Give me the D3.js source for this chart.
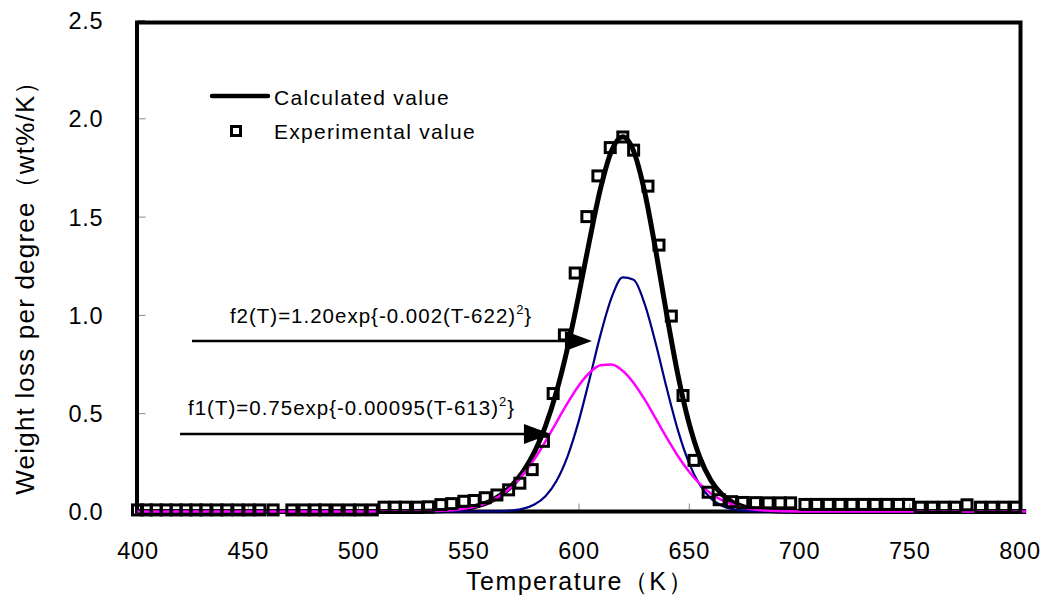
<!DOCTYPE html>
<html lang="en">
<head>
<meta charset="UTF-8">
<script src="https://cdn.jsdelivr.net/npm/d3@7"></script>
<style>
  body { margin: 0; background: #fff; }
  svg { display: block; font-family: "Liberation Sans", Arial, sans-serif; }
</style>
</head>
<body>
<div id="fig"></div>
<script>
// temperature grid for the fitted curves (K)
const tempGrid = [400, 450, 500, 520, 525, 530, 535,
  540, 545, 550, 555, 560, 565, 570, 575, 580, 585, 590, 595, 600, 605, 610,
  615, 620, 625, 630, 635, 640, 645, 650, 655, 660, 665, 670, 675, 680, 685,
  690, 695, 700, 710, 750, 803];

// f1(T)
const f1Vals = [0, 0, 0, 0.0002, 0.0005, 0.0011, 0.0023,
  0.0047, 0.0093, 0.0173, 0.0307, 0.0520, 0.0840, 0.1294, 0.1902, 0.2665, 0.3561, 0.4538, 0.5513, 0.6388, 0.7058, 0.7436,
  0.7472, 0.7159, 0.6541, 0.5699, 0.4736, 0.3752, 0.2835, 0.2043, 0.1404, 0.0920, 0.0575, 0.0342, 0.0195, 0.0105, 0.0054,
  0.0027, 0.0013, 0.0006, 0.0001, 0, 0];

// f2(T)
const f2Vals = [0, 0, 0, 0, 0, 0, 0,
  0, 0, 0, 0.0002, 0.0005, 0.0018, 0.0054, 0.0145, 0.0352, 0.0776, 0.1548, 0.2792, 0.4558, 0.6732, 0.8997,
  1.0879, 1.1904, 1.1786, 1.0559, 0.8559, 0.6277, 0.4165, 0.2502, 0.1360, 0.0668, 0.0297, 0.0120, 0.0044, 0.0014, 0.0004,
  0.0001, 0, 0, 0, 0, 0];

// calculated value
const calcVals = [0, 0, 0, 0.0002, 0.0005, 0.0011, 0.0023,
  0.0047, 0.0093, 0.0173, 0.0309, 0.0525, 0.0858, 0.1348, 0.2047, 0.3017, 0.4337, 0.6086, 0.8305, 1.0946, 1.3790, 1.6433,
  1.8351, 1.9063, 1.8327, 1.6258, 1.3295, 1.0029, 0.7000, 0.4545, 0.2764, 0.1588, 0.0872, 0.0462, 0.0239, 0.0119, 0.0058,
  0.0028, 0.0013, 0.0006, 0.0001, 0, 0];

// experimental points
const expT = [400, 404, 408.5, 413, 417.5, 422, 426.5, 431, 436, 440.5, 445.5, 450.5, 455.5, 461.5,
  470, 475.5, 480.5, 485, 490.5, 496, 501, 506.5,
  511.8, 516.8, 521.5, 527, 532, 537.6, 542.5, 548, 552.7, 557.7,
  563, 568.3, 573.4, 579, 584.1, 588.5, 593.6, 598.5, 603.8, 608.8,
  614.4, 620.1, 625, 631.5, 636.5, 642.1, 647.4, 652.4, 658.8, 663.8,
  669.4, 674.5, 680.3, 686, 691.4, 696.2,
  702.7, 708, 713.3, 718.6, 724, 729.2, 734.5, 739.9, 745.1, 749.7,
  755, 760.5, 765.8, 771, 776.2, 782.3, 787.6, 792.9, 798.2];
const expV = [0.008, 0.008, 0.008, 0.008, 0.008, 0.008, 0.008, 0.008, 0.008, 0.008, 0.008, 0.008, 0.008, 0.008,
  0.008, 0.008, 0.008, 0.008, 0.008, 0.008, 0.008, 0.008,
  0.022, 0.022, 0.022, 0.022, 0.024, 0.035, 0.040, 0.052, 0.056, 0.070,
  0.084, 0.110, 0.144, 0.213, 0.357, 0.600, 0.898, 1.213, 1.500, 1.707,
  1.851, 1.905, 1.838, 1.655, 1.355, 0.994, 0.590, 0.260, 0.098, 0.060,
  0.050, 0.046, 0.045, 0.044, 0.044, 0.044,
  0.036, 0.036, 0.036, 0.036, 0.036, 0.036, 0.036, 0.036, 0.036, 0.036,
  0.022, 0.022, 0.022, 0.022, 0.034, 0.022, 0.022, 0.022, 0.022];

const xTicks = [400, 450, 500, 550, 600, 650, 700, 750, 800];
const yTicks = [0, 0.5, 1.0, 1.5, 2.0, 2.5];

const width = 1046, height = 603;
const plotL = 137.5, plotR = 1019.5, plotT = 20, plotB = 511.5;

const svg = d3.select("#fig").append("svg")
  .attr("width", width)
  .attr("height", height);

svg.append("rect").attr("width", width).attr("height", height).attr("fill", "#fff");

const x = d3.scaleLinear().domain([400, 800]).range([plotL, plotR]);
const y = d3.scaleLinear().domain([0, 2.5]).range([plotB, plotT]);

// axes (ticks pointing inward)
const xAxis = svg.append("g")
  .attr("transform", `translate(0,${plotB})`)
  .call(d3.axisBottom(x).tickValues(xTicks).tickSizeInner(-8).tickSizeOuter(0).tickPadding(31).tickFormat(d3.format("d")));
const yAxis = svg.append("g")
  .attr("transform", `translate(${plotL},0)`)
  .call(d3.axisLeft(y).tickValues(yTicks).tickSizeInner(-8).tickSizeOuter(0).tickPadding(34).tickFormat(d3.format(".1f")));

[xAxis, yAxis].forEach(a => {
  a.select(".domain").remove();
  a.selectAll(".tick line").attr("stroke", "#888").attr("stroke-width", 1);
  a.selectAll(".tick text")
    .attr("fill", "#000")
    .style("font-size", "23.5px")
    .style("letter-spacing", "0.8px")
    .style("font-family", "'Liberation Sans', Arial, sans-serif");
});
yAxis.selectAll(".tick text").attr("dy", "0.36em");

// frame
svg.append("rect")
  .attr("x", plotL - 0.5)
  .attr("y", plotT + 2.5)
  .attr("width", plotR - plotL + 1.5)
  .attr("height", plotB - plotT - 2.5)
  .attr("fill", "none")
  .attr("stroke", "#000")
  .attr("stroke-width", 4);

const curve = vals => d3.line()
  .x((d, i) => x(tempGrid[i]))
  .y(d => y(d))
  .curve(d3.curveMonotoneX)(vals);

svg.append("path").attr("d", curve(calcVals))
  .attr("fill", "none").attr("stroke", "#000").attr("stroke-width", 5);
svg.append("path").attr("d", curve(f2Vals))
  .attr("fill", "none").attr("stroke", "#000080").attr("stroke-width", 2.2);
svg.append("path").attr("d", curve(f1Vals))
  .attr("fill", "none").attr("stroke", "#ff00ff").attr("stroke-width", 2.5);

// experimental squares
svg.selectAll(".exp")
  .data(expT)
  .join("rect")
  .attr("class", "exp")
  .attr("x", d => x(d) - 5)
  .attr("y", (d, i) => y(expV[i]) - 5)
  .attr("width", 10)
  .attr("height", 10)
  .attr("fill", "none")
  .attr("stroke", "#000")
  .attr("stroke-width", 3);

// annotations with arrows
function arrow(t0, t1, v) {
  const y0 = y(v), xs = x(t0), xe = x(t1);
  svg.append("line")
    .attr("x1", xs).attr("x2", xe - 20)
    .attr("y1", y0).attr("y2", y0)
    .attr("stroke", "#000").attr("stroke-width", 2.5);
  svg.append("path")
    .attr("d", `M${xe},${y0}L${xe - 27},${y0 - 10}L${xe - 27},${y0 + 10}Z`)
    .attr("fill", "#000");
}
arrow(424.7, 606.1, 0.867);
arrow(419.3, 587.5, 0.394);

function formula(t, v, main, sup) {
  const txt = svg.append("text")
    .attr("x", x(t)).attr("y", y(v))
    .style("font-size", "20.5px")
    .style("letter-spacing", "1px");
  txt.append("tspan").text(main);
  txt.append("tspan").attr("dy", -9).style("font-size", "13px").text(sup);
  txt.append("tspan").attr("dy", 9).text("}");
}
formula(441.9, 0.959, "f2(T)=1.20exp{-0.002(T-622)", "2");
formula(422.9, 0.491, "f1(T)=0.75exp{-0.00095(T-613)", "2");

// legend
const lg = svg.append("g");
lg.append("line").attr("x1", 212).attr("x2", 268).attr("y1", 96).attr("y2", 96)
  .attr("stroke", "#000").attr("stroke-width", 4.5).attr("stroke-linecap", "round");
lg.append("text").attr("x", 274).attr("y", 105).text("Calculated value")
  .style("font-size", "21px").style("letter-spacing", "1.3px");
lg.append("rect").attr("x", 231.5).attr("y", 126.5).attr("width", 9).attr("height", 9)
  .attr("fill", "none").attr("stroke", "#000").attr("stroke-width", 3);
lg.append("text").attr("x", 274).attr("y", 139).text("Experimental value")
  .style("font-size", "21px").style("letter-spacing", "1.3px");

// axis titles
svg.append("text")
  .attr("x", 580).attr("y", 590)
  .attr("text-anchor", "middle")
  .style("font-size", "25px")
  .style("letter-spacing", "1.5px")
  .text("Temperature（K）");

svg.append("text")
  .attr("transform", "translate(34,281) rotate(-90)")
  .attr("text-anchor", "middle")
  .style("font-size", "26px")
  .style("letter-spacing", "1.2px")
  .text("Weight loss per degree（wt%/K）");
</script>
</body>
</html>
